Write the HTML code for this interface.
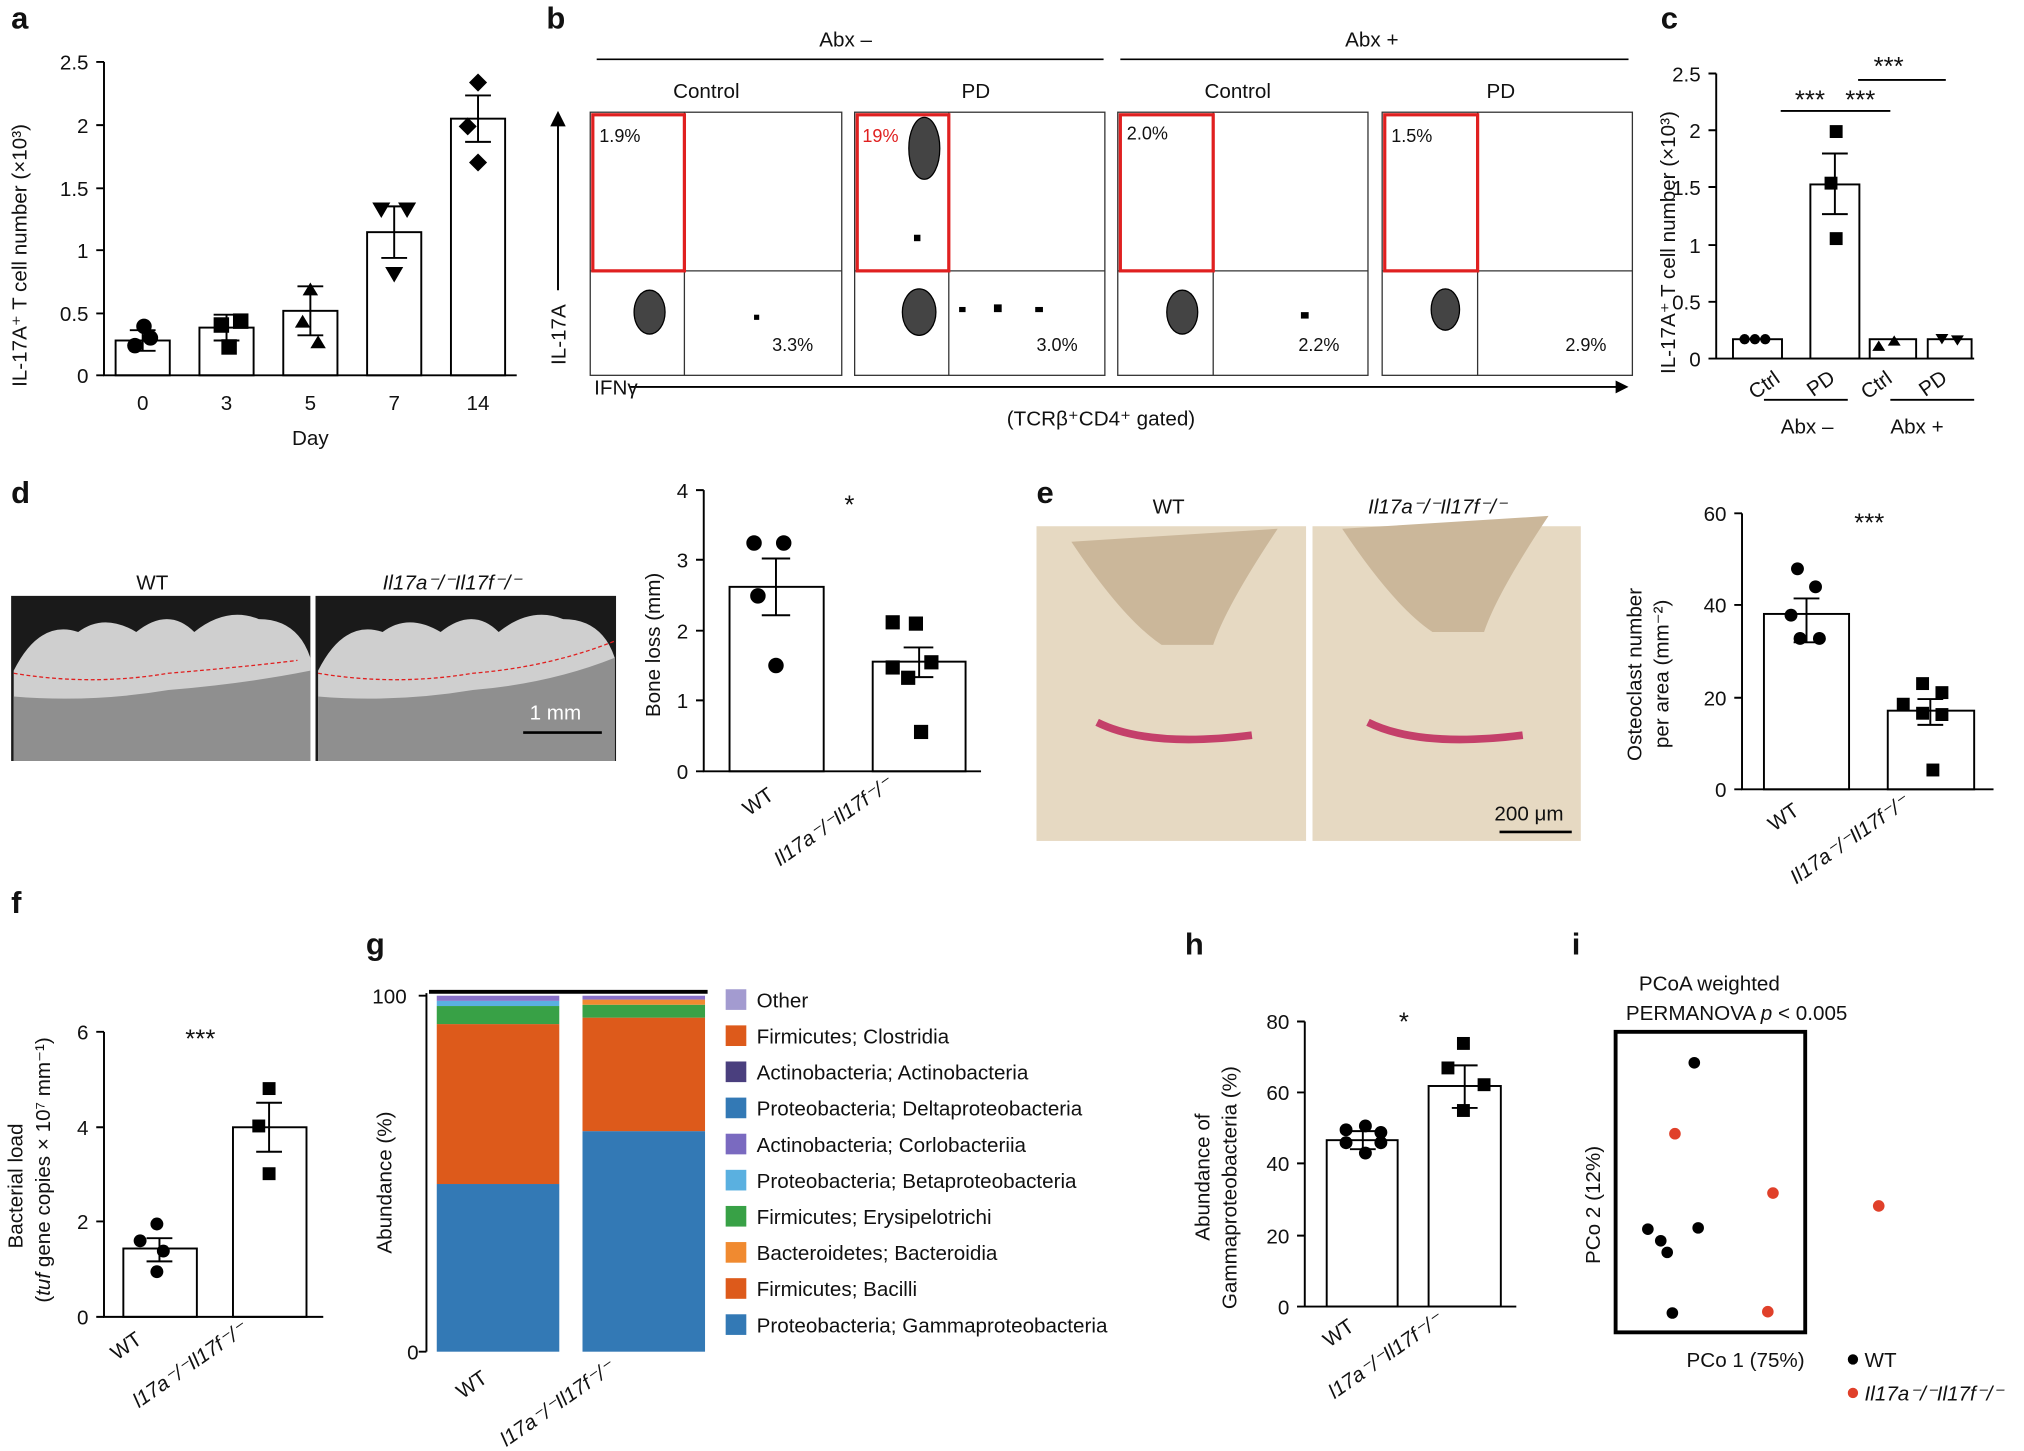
<!DOCTYPE html>
<html><head><meta charset="utf-8"><style>
html,body{margin:0;padding:0;background:#fff}
svg{display:block}
text{font-family:"Liberation Sans",sans-serif;fill:#111}
.pl{font-weight:bold;font-size:24px}
.t{font-size:16px}
.s{font-size:14px}
.st{font-size:20px}
</style></head><body>
<svg width="2024" height="1451" viewBox="0 0 1568 1125" xmlns="http://www.w3.org/2000/svg">
<rect width="1568" height="1125" fill="#fff"/>
<g stroke="#000" stroke-width="1.5" fill="none">
<path d="M80 48V291H400"/>
<path d="M74 48H80M74 97H80M74 146H80M74 194H80M74 243H80M74 291H80"/>
<rect x="89" y="264" width="42" height="27"/><rect x="154" y="254" width="42" height="37"/>
<rect x="219" y="241" width="42" height="50"/><rect x="284" y="180" width="42" height="111"/>
<rect x="349" y="92" width="42" height="199"/>
<path d="M100 256H120M110 256V272M100 272H120M165 244H185M175 244V264M165 264H185M230 222H250M240 222V260M230 260H250M295 160H315M305 160V200M295 200H315M360 74H380M370 74V110M360 110H380"/>
<path d="M1330 57V278H1530"/>
<path d="M1324 57H1330M1324 101H1330M1324 145H1330M1324 190H1330M1324 234H1330M1324 278H1330"/>
<rect x="1343" y="263" width="38" height="15"/><rect x="1403" y="143" width="38" height="135"/>
<rect x="1449" y="263" width="36" height="15"/><rect x="1494" y="263" width="34" height="15"/>
<path d="M1412 119H1432M1422 119V166M1412 166H1432"/>
<path d="M1380 86H1465M1440 62H1508M1367 310H1432M1465 310H1530"/>
<path d="M545 380V598H760"/>
<path d="M539 380H545M539 434H545M539 489H545M539 543H545M539 598H545"/>
<rect x="565" y="455" width="73" height="143"/><rect x="676" y="513" width="72" height="85"/>
<path d="M590 433H612M601 433V477M590 477H612M700 502H723M712 502V525M700 525H723"/>
<path d="M1350 398V612H1545"/>
<path d="M1344 398H1350M1344 469H1350M1344 541H1350M1344 612H1350"/>
<rect x="1367" y="476" width="66" height="136"/><rect x="1463" y="551" width="67" height="61"/>
<path d="M1390 464H1410M1400 464V498M1390 498H1410M1486 542H1506M1496 542V562M1486 562H1506"/>
<path d="M80 800V1021H250"/>
<path d="M74 800H80M74 874H80M74 947H80M74 1021H80"/>
<rect x="95" y="968" width="57" height="53"/><rect x="180" y="874" width="57" height="147"/>
<path d="M113 960H133M123 960V978M113 978H133M198 855H218M208 855V893M198 893H218"/>
<path d="M330 770V1048M324 772H330M324 1048H330"/>
<path d="M1011 792V1013H1175"/>
<path d="M1005 792H1011M1005 847H1011M1005 902H1011M1005 958H1011M1005 1013H1011"/>
<rect x="1028" y="884" width="55" height="129"/><rect x="1107" y="842" width="56" height="171"/>
<path d="M1046 877H1066M1056 877V891M1046 891H1066M1125 826H1145M1135 826V859M1125 859H1145"/>
<rect x="1252" y="800" width="147" height="233" stroke-width="3"/>
</g>
<g fill="#000">
<circle cx="104" cy="268" r="6"/><circle cx="116" cy="262" r="6"/><circle cx="111" cy="253" r="6"/>
<rect x="165" y="246" width="12" height="12"/><rect x="180" y="243" width="12" height="12"/><rect x="171" y="263" width="12" height="12"/>
<path d="M240 227l6 10h-12zM234 252l6 10h-12zM246 268l6 10h-12z" transform="translate(0,-8)"/>
<path d="M288 157h14l-7 12zM308 157h14l-7 12zM298 207h14l-7 12z"/>
<path d="M370 57l7 7-7 7-7-7zM362 91l7 7-7 7-7-7zM370 119l7 7-7 7-7-7z"/>
<circle cx="1352" cy="263" r="4"/><circle cx="1360" cy="263" r="4"/><circle cx="1368" cy="263" r="4"/>
<rect x="1418" y="97" width="10" height="10"/><rect x="1414" y="137" width="10" height="10"/><rect x="1418" y="180" width="10" height="10"/>
<path d="M1456 264l5 8h-10zM1468 260l5 8h-10z"/><path d="M1500 259h10l-5 8zM1512 260h10l-5 8z"/>
<circle cx="584" cy="421" r="6"/><circle cx="607" cy="421" r="6"/><circle cx="601" cy="516" r="6"/><circle cx="587" cy="462" r="6"/>
<rect x="686" y="477" width="11" height="11"/><rect x="704" y="478" width="11" height="11"/><rect x="708" y="562" width="11" height="11"/>
<rect x="686" y="512" width="11" height="11"/><rect x="698" y="520" width="11" height="11"/><rect x="716" y="508" width="11" height="11"/>
<circle cx="1393" cy="441" r="5"/><circle cx="1407" cy="455" r="5"/><circle cx="1388" cy="477" r="5"/>
<circle cx="1395" cy="495" r="5"/><circle cx="1410" cy="495" r="5"/>
<rect x="1485" y="525" width="10" height="10"/><rect x="1500" y="532" width="10" height="10"/><rect x="1470" y="541" width="10" height="10"/>
<rect x="1485" y="548" width="10" height="10"/><rect x="1500" y="549" width="10" height="10"/><rect x="1493" y="592" width="10" height="10"/>
<circle cx="121" cy="949" r="5"/><circle cx="108" cy="962" r="5"/><circle cx="126" cy="970" r="5"/><circle cx="121" cy="986" r="5"/>
<rect x="203" y="839" width="10" height="10"/><rect x="195" y="868" width="10" height="10"/><rect x="203" y="905" width="10" height="10"/>
<circle cx="1043" cy="876" r="5"/><circle cx="1058" cy="873" r="5"/><circle cx="1070" cy="878" r="5"/>
<circle cx="1043" cy="886" r="5"/><circle cx="1058" cy="894" r="5"/><circle cx="1070" cy="886" r="5"/>
<rect x="1129" y="804" width="10" height="10"/><rect x="1117" y="823" width="10" height="10"/><rect x="1145" y="836" width="10" height="10"/><rect x="1129" y="856" width="10" height="10"/>
<circle cx="1313" cy="824" r="4.5"/><circle cx="1277" cy="953" r="4.5"/><circle cx="1287" cy="962" r="4.5"/>
<circle cx="1292" cy="971" r="4.5"/><circle cx="1316" cy="952" r="4.5"/><circle cx="1296" cy="1018" r="4.5"/>
<circle cx="1436" cy="1054" r="4"/>
</g>
<g fill="#e0402a"><circle cx="1298" cy="879" r="4.5"/><circle cx="1374" cy="925" r="4.5"/><circle cx="1456" cy="935" r="4.5"/><circle cx="1370" cy="1017" r="4.5"/><circle cx="1436" cy="1080" r="4"/></g>
<text class="pl" x="8" y="22">a</text>
<g class="t" text-anchor="end"><text x="68" y="54">2.5</text><text x="68" y="103">2</text><text x="68" y="152">1.5</text><text x="68" y="200">1</text><text x="68" y="249">0.5</text><text x="68" y="297">0</text></g>
<g class="t" text-anchor="middle"><text x="110" y="318">0</text><text x="175" y="318">3</text><text x="240" y="318">5</text><text x="305" y="318">7</text><text x="370" y="318">14</text><text x="240" y="345">Day</text></g>
<text class="t" transform="translate(20,300) rotate(-90)">IL-17A⁺ T cell number (×10³)</text>
<text class="pl" x="423" y="22">b</text>
<g class="t" text-anchor="middle"><text x="655" y="36">Abx –</text><text x="1063" y="36">Abx +</text>
<text x="547" y="76">Control</text><text x="756" y="76">PD</text><text x="959" y="76">Control</text><text x="1163" y="76">PD</text>
<text x="853" y="330">(TCRβ⁺CD4⁺ gated)</text></g>
<path d="M462 46H855M868 46H1262" stroke="#000" stroke-width="1.2"/>
<path d="M432 90V225M488 300H1255" stroke="#000" stroke-width="1.5"/>
<path d="M432 86l-6 12h12z" fill="#000"/>
<path d="M1262 300l-10-5v10z" fill="#000"/>
<text class="t" transform="translate(438,283) rotate(-90)">IL-17A</text>
<text class="t" x="460" y="306">IFNγ</text>
<g stroke="#333" fill="none" stroke-width="1">
<rect x="457" y="87" width="195" height="204"/><rect x="662" y="87" width="194" height="204"/>
<rect x="866" y="87" width="194" height="204"/><rect x="1071" y="87" width="194" height="204"/>
<path d="M457 210H652M530 87V291M662 210H856M735 87V291M866 210H1060M940 87V291M1071 210H1265M1145 87V291"/>
</g>
<g stroke="#e02020" stroke-width="2.5" fill="none">
<rect x="459" y="89" width="71" height="121"/><rect x="664" y="89" width="71" height="121"/><rect x="868" y="89" width="72" height="121"/><rect x="1073" y="89" width="72" height="121"/>
</g>
<g fill="#444" stroke="#000"><ellipse cx="503" cy="242" rx="12" ry="17"/><ellipse cx="712" cy="242" rx="13" ry="18"/><ellipse cx="916" cy="242" rx="12" ry="17"/><ellipse cx="1120" cy="240" rx="11" ry="16"/>
<ellipse cx="716" cy="115" rx="12" ry="24"/></g>
<g fill="#000"><rect x="584" y="244" width="4" height="4"/><rect x="743" y="238" width="5" height="4"/><rect x="770" y="236" width="6" height="6"/><rect x="802" y="238" width="6" height="4"/><rect x="708" y="182" width="5" height="5"/><rect x="1008" y="242" width="6" height="5"/></g>
<g class="s"><text x="464" y="110">1.9%</text><text x="668" y="110" style="fill:#e02020">19%</text><text x="873" y="108">2.0%</text><text x="1078" y="110">1.5%</text>
<text x="598" y="272">3.3%</text><text x="803" y="272">3.0%</text><text x="1006" y="272">2.2%</text><text x="1213" y="272">2.9%</text></g>
<text class="pl" x="1287" y="22">c</text>
<g class="t" text-anchor="end"><text x="1318" y="63">2.5</text><text x="1318" y="107">2</text><text x="1318" y="151">1.5</text><text x="1318" y="196">1</text><text x="1318" y="240">0.5</text><text x="1318" y="284">0</text></g>
<text class="t" transform="translate(1298,290) rotate(-90)">IL-17A⁺ T cell number (×10³)</text>
<g class="st"><text x="1391" y="84">***</text><text x="1430" y="84">***</text><text x="1452" y="58">***</text></g>
<g class="t"><text transform="translate(1360,310) rotate(-35)">Ctrl</text><text transform="translate(1405,308) rotate(-35)">PD</text><text transform="translate(1447,310) rotate(-35)">Ctrl</text><text transform="translate(1492,308) rotate(-35)">PD</text>
<text x="1380" y="336">Abx –</text><text x="1465" y="336">Abx +</text></g>
<text class="pl" x="8" y="390">d</text>
<rect x="8" y="462" width="232" height="128" fill="#1a1a1a"/><rect x="244" y="462" width="233" height="128" fill="#1a1a1a"/>
<g fill="#cfcfcf"><path d="M10 590V520q20-40 50-30q20-15 45 0q25-20 45 0q25-20 50-10q30 0 40 30V590z"/><path d="M246 590V520q20-40 50-30q20-15 45 0q25-20 45 0q25-20 50-10q30 0 40 30V590z"/></g>
<g fill="#8f8f8f"><path d="M10 590V540q60 5 120-5q60-5 110-15V590z"/><path d="M246 590V540q60 5 120-5q60-5 110-25V590z"/></g>
<path d="M10 522q60 10 120 0q60-5 100-10M246 522q60 10 120 0q60-5 110-25" stroke="#e02020" stroke-dasharray="3 2" fill="none"/>
<text class="t" x="105" y="457">WT</text><text class="t" x="296" y="457" font-style="italic">Il17a⁻/⁻Il17f⁻/⁻</text>
<text class="t" x="410" y="558" style="fill:#fff">1 mm</text><path d="M405 568H466" stroke="#000" stroke-width="2"/>
<g class="t" text-anchor="end"><text x="533" y="386">4</text><text x="533" y="440">3</text><text x="533" y="495">2</text><text x="533" y="549">1</text><text x="533" y="604">0</text></g>
<text class="t" transform="translate(511,556) rotate(-90)">Bone loss (mm)</text>
<text class="st" x="654" y="398">*</text>
<text class="t" transform="translate(580,633) rotate(-35)">WT</text>
<text class="t" font-style="italic" transform="translate(604,672) rotate(-35)">Il17a⁻/⁻Il17f⁻/⁻</text>
<text class="pl" x="803" y="390">e</text>
<rect x="803" y="408" width="209" height="244" fill="#e6d9c2"/><rect x="1017" y="408" width="208" height="244" fill="#e6d9c2"/>
<path d="M830 420q40 60 70 80l40 0q10-30 50-90z M1040 410q40 60 70 80l40 0q10-30 50-90z" fill="#cbb79a"/>
<path d="M850 560q40 20 120 10M1060 560q40 20 120 10" stroke="#c4406a" stroke-width="6" fill="none"/>
<text class="t" x="893" y="398">WT</text><text class="t" x="1060" y="398" font-style="italic">Il17a⁻/⁻Il17f⁻/⁻</text>
<text class="t" x="1158" y="636">200 μm</text><path d="M1162 645H1218" stroke="#000" stroke-width="2"/>
<g class="t" text-anchor="end"><text x="1338" y="404">60</text><text x="1338" y="475">40</text><text x="1338" y="547">20</text><text x="1338" y="618">0</text></g>
<text class="t" transform="translate(1272,590) rotate(-90)">Osteoclast number</text>
<text class="t" transform="translate(1293,580) rotate(-90)">per area (mm⁻²)</text>
<text class="st" x="1437" y="412">***</text>
<text class="t" transform="translate(1375,645) rotate(-35)">WT</text>
<text class="t" font-style="italic" transform="translate(1392,686) rotate(-35)">Il17a⁻/⁻Il17f⁻/⁻</text>
<text class="pl" x="8" y="708">f</text>
<g class="t" text-anchor="end"><text x="68" y="806">6</text><text x="68" y="880">4</text><text x="68" y="953">2</text><text x="68" y="1027">0</text></g>
<text class="t" transform="translate(17,968) rotate(-90)">Bacterial load</text>
<text class="t" transform="translate(38,1010) rotate(-90)">(<tspan font-style="italic">tuf</tspan> gene copies × 10⁷ mm⁻¹)</text>
<text class="st" x="143" y="812">***</text>
<text class="t" transform="translate(90,1055) rotate(-35)">WT</text>
<text class="t" font-style="italic" transform="translate(107,1092) rotate(-35)">l17a⁻/⁻Il17f⁻/⁻</text>
<text class="pl" x="283" y="740">g</text>
<text class="t" x="288" y="778">100</text><text class="t" x="315" y="1054">0</text>
<text class="t" transform="translate(303,972) rotate(-90)">Abundance (%)</text>
<path d="M332 769H548" stroke="#000" stroke-width="3"/>
<rect x="338" y="918" width="95" height="130" fill="#3379b5"/><rect x="338" y="794" width="95" height="124" fill="#dd5a1b"/>
<rect x="338" y="780" width="95" height="14" fill="#38a146"/><rect x="338" y="776" width="95" height="4" fill="#5ab0e0"/><rect x="338" y="772" width="95" height="4" fill="#8870c8"/>
<rect x="451" y="877" width="95" height="171" fill="#3379b5"/><rect x="451" y="789" width="95" height="88" fill="#dd5a1b"/>
<rect x="451" y="779" width="95" height="10" fill="#38a146"/><rect x="451" y="775" width="95" height="4" fill="#f08a30"/><rect x="451" y="772" width="95" height="3" fill="#8870c8"/>
<g class="t">
<rect x="562" y="767" width="16" height="16" fill="#a39bd0"/><text x="586" y="781">Other</text>
<rect x="562" y="795" width="16" height="16" fill="#dd5a1b"/><text x="586" y="809">Firmicutes; Clostridia</text>
<rect x="562" y="823" width="16" height="16" fill="#4a3f7e"/><text x="586" y="837">Actinobacteria; Actinobacteria</text>
<rect x="562" y="851" width="16" height="16" fill="#3379b5"/><text x="586" y="865">Proteobacteria; Deltaproteobacteria</text>
<rect x="562" y="879" width="16" height="16" fill="#7a6ac0"/><text x="586" y="893">Actinobacteria; Corlobacteriia</text>
<rect x="562" y="907" width="16" height="16" fill="#5ab0e0"/><text x="586" y="921">Proteobacteria; Betaproteobacteria</text>
<rect x="562" y="935" width="16" height="16" fill="#38a146"/><text x="586" y="949">Firmicutes; Erysipelotrichi</text>
<rect x="562" y="963" width="16" height="16" fill="#f08a30"/><text x="586" y="977">Bacteroidetes; Bacteroidia</text>
<rect x="562" y="991" width="16" height="16" fill="#dd5a1b"/><text x="586" y="1005">Firmicutes; Bacilli</text>
<rect x="562" y="1019" width="16" height="16" fill="#3379b5"/><text x="586" y="1033">Proteobacteria; Gammaproteobacteria</text>
</g>
<text class="t" transform="translate(358,1085) rotate(-35)">WT</text>
<text class="t" font-style="italic" transform="translate(392,1122) rotate(-35)">l17a⁻/⁻Il17f⁻/⁻</text>
<text class="pl" x="918" y="740">h</text>
<g class="t" text-anchor="end"><text x="999" y="798">80</text><text x="999" y="853">60</text><text x="999" y="908">40</text><text x="999" y="964">20</text><text x="999" y="1019">0</text></g>
<text class="t" transform="translate(937,962) rotate(-90)">Abundance of</text>
<text class="t" transform="translate(958,1015) rotate(-90)">Gammaproteobacteria (%)</text>
<text class="st" x="1084" y="799">*</text>
<text class="t" transform="translate(1030,1045) rotate(-35)">WT</text>
<text class="t" font-style="italic" transform="translate(1034,1085) rotate(-35)">l17a⁻/⁻Il17f⁻/⁻</text>
<text class="pl" x="1218" y="740">i</text>
<text class="t" x="1270" y="768">PCoA weighted</text>
<text class="t" x="1260" y="791">PERMANOVA <tspan font-style="italic">p</tspan> &lt; 0.005</text>
<text class="t" transform="translate(1240,980) rotate(-90)">PCo 2 (12%)</text>
<text class="t" x="1307" y="1060">PCo 1 (75%)</text>
<text class="t" x="1445" y="1060">WT</text>
<text class="t" x="1445" y="1086" font-style="italic">Il17a⁻/⁻Il17f⁻/⁻</text>
</svg>
</body></html>
